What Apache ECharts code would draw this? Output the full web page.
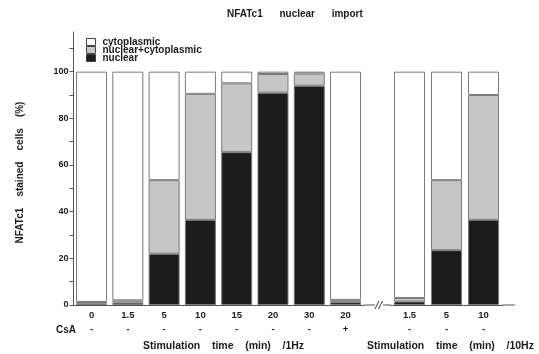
<!DOCTYPE html>
<html>
<head>
<meta charset="utf-8">
<script src="https://cdn.jsdelivr.net/npm/echarts@6/dist/echarts.min.js"></script>
<style>html,body{margin:0;padding:0;background:#fff}#c{width:539px;height:354px}</style>
</head>
<body>
<div id="c"></div>
<script>
// 1 Hz group (left) and 10 Hz group (right)
var times1Hz = ['0', '1.5', '5', '10', '15', '20', '30', '20'];
var csa1Hz = ['-', '-', '-', '-', '-', '-', '-', '+'];
var nuclear1Hz = [0.5, 1, 22, 36.5, 65.5, 91, 94, 1.2];
var nucCyto1Hz = [0.8, 1, 31.5, 54, 29.5, 8, 5.2, 1];
var cyto1Hz = [98.7, 98, 46.5, 9.5, 5, 1, 0.8, 97.8];

var times10Hz = ['1.5', '5', '10'];
var csa10Hz = ['-', '-', '-'];
var nuclear10Hz = [1.5, 23.5, 36.5];
var nucCyto10Hz = [1.5, 30, 53.5];
var cyto10Hz = [97, 46.5, 10];

var yTicks = [0, 20, 40, 60, 80, 100];

var FONT = '"Liberation Sans", Arial, sans-serif';
var TXT = '#1a1a1a';
var COL_NUC = '#1c1c1c', COL_NC = '#c6c6c6', COL_CYT = '#ffffff';
var BORDER = '#7a7a7a';

function bar(name, data, color, g) {
  return {
    name: name, type: 'bar', stack: 's' + g, data: data,
    xAxisIndex: g, yAxisIndex: g, barWidth: 31,
    itemStyle: {color: color, borderColor: BORDER, borderWidth: 1},
    emphasis: {disabled: true}, animation: false
  };
}

function xAx(g, cats, signs, name, shift) {
  return {
    type: 'category', gridIndex: g, data: cats,
    axisLine: {show: true, lineStyle: {color: '#555', width: 1}},
    axisTick: {show: false},
    axisLabel: {
      margin: 3, fontFamily: FONT, fontWeight: 'bold', fontSize: 9.5, color: TXT, lineHeight: 14,
      formatter: function (v, i) { return v + '\n' + signs[i]; }
    },
    name: name, nameLocation: 'middle', nameGap: 36,
    nameTextStyle: {fontFamily: FONT, fontWeight: 'bold', fontSize: 10.5, color: TXT, padding: [0, 0, 0, shift]}
  };
}

function yAx(g, show) {
  return {
    type: 'value', gridIndex: g, min: 0, max: 117, interval: 10, show: show,
    axisLine: {show: true, lineStyle: {color: '#555', width: 1}},
    axisTick: {show: true, length: 4, inside: false, lineStyle: {color: '#555'}},
    splitLine: {show: false},
    axisLabel: {
      margin: 5, fontFamily: FONT, fontWeight: 'bold', fontSize: 9, color: TXT, showMaxLabel: false,
      formatter: function (v) { return yTicks.indexOf(v) >= 0 ? String(v) : ''; }
    },
    name: show ? 'NFATc1    stained    cells    (%)' : '',
    nameLocation: 'middle', nameGap: 48,
    nameTextStyle: {fontFamily: FONT, fontWeight: 'bold', fontSize: 10, color: TXT, padding: [0, 8, 0, 0]}
  };
}

var chart = echarts.init(document.getElementById('c'), null, {renderer: 'canvas'});
chart.setOption({
  animation: false,
  backgroundColor: '#fff',
  title: {
    text: 'NFATc1      nuclear      import',
    left: 227, top: 9, padding: 0,
    textStyle: {fontFamily: FONT, fontWeight: 'bold', fontSize: 10, color: TXT}
  },
  legend: {
    orient: 'vertical', left: 86, top: 37, padding: 0, itemWidth: 9, itemHeight: 7, itemGap: -2,
    icon: 'rect', selectedMode: false,
    data: ['cytoplasmic', 'nuclear+cytoplasmic', 'nuclear'],
    itemStyle: {borderColor: '#444', borderWidth: 1},
    textStyle: {fontFamily: FONT, fontWeight: 'bold', fontSize: 10, color: TXT, padding: [0, 0, 0, 2]}
  },
  grid: [
    {left: 73.4, top: 32, width: 290.3, height: 273, containLabel: false, outerBoundsMode: 'none'},
    {left: 391, top: 32, width: 111, height: 273, containLabel: false, outerBoundsMode: 'none'}
  ],
  xAxis: [
    xAx(0, times1Hz, csa1Hz, 'Stimulation    time    (min)    /1Hz', 10),
    xAx(1, times10Hz, csa10Hz, 'Stimulation    time    (min)    /10Hz', 8)
  ],
  yAxis: [yAx(0, true), yAx(1, false)],
  series: [
    bar('nuclear', nuclear1Hz, COL_NUC, 0),
    bar('nuclear+cytoplasmic', nucCyto1Hz, COL_NC, 0),
    bar('cytoplasmic', cyto1Hz, COL_CYT, 0),
    bar('nuclear', nuclear10Hz, COL_NUC, 1),
    bar('nuclear+cytoplasmic', nucCyto10Hz, COL_NC, 1),
    bar('cytoplasmic', cyto10Hz, COL_CYT, 1)
  ],
  graphic: [
    {type: 'line', shape: {x1: 363.7, y1: 305, x2: 375, y2: 305}, style: {stroke: '#555', lineWidth: 1}},
    {type: 'line', shape: {x1: 383, y1: 305, x2: 391, y2: 305}, style: {stroke: '#555', lineWidth: 1}},
    {type: 'line', shape: {x1: 502, y1: 305, x2: 515, y2: 305}, style: {stroke: '#555', lineWidth: 1}},
    {type: 'line', shape: {x1: 375, y1: 309, x2: 379, y2: 301}, style: {stroke: '#333', lineWidth: 1}},
    {type: 'line', shape: {x1: 378.5, y1: 309, x2: 382.5, y2: 301}, style: {stroke: '#333', lineWidth: 1}},
    {type: 'text', left: 56, top: 325, style: {text: 'CsA', font: 'bold 10px ' + FONT, fill: TXT}}
  ]
});
</script>
</body>
</html>
